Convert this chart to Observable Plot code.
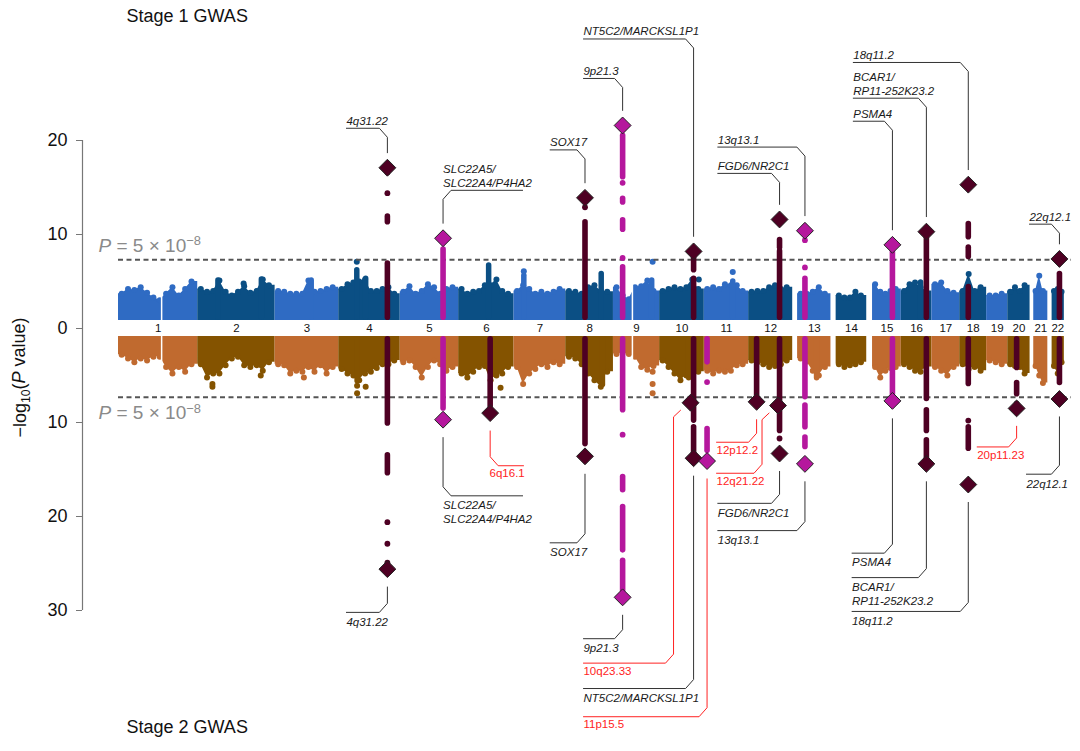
<!DOCTYPE html>
<html>
<head>
<meta charset="utf-8">
<script src="https://cdn.jsdelivr.net/npm/d3@7"></script>
<script src="https://cdn.jsdelivr.net/npm/@observablehq/plot@0.6"></script>
<style>
  html, body { margin: 0; padding: 0; background: #fff; }
  #chart { width: 1080px; height: 751px; }
</style>
</head>
<body>
<div id="chart"></div>
<script>
// ---------------- DATA ----------------
const chromosomes = ["1","2","3","4","5","6","7","8","9","10","11","12","13","14","15","16","17","18","19","20","21","22"];
const chromLengthsMb = [249,243,198,191,181,171,159,146,141,136,135,134,115,107,103,90,81,78,59,63,48,51];
const chromFirstMb   = [0,0,0,0,0,0,0,0,0,0,0,0,16,17,19,0,0,0,0,0,12,14];
const chromGapMb = 10;

// Stage 1 (top) envelope of the background SNP cloud, -log10 P, evenly spaced along each chromosome
const stage1Envelope = [
  [3.7,4.2,4.1,4.4,3.8,3.3,3.0,3.7,4.4,3.5,4.2,5.0],
  [4.2,3.9,4.0,5.1,3.9,3.5,3.9,4.5,3.8,4.0,5.2,4.6],
  [4.0,3.9,3.7,3.7,3.7,5.1,3.9,4.0,4.2,4.4],
  [4.2,4.7,4.9,5.0,5.2,4.0,4.0,4.2,4.4,3.7],
  [3.9,4.5,3.7,4.0,4.7,4.4,3.7,4.2,4.4],
  [4.2,3.7,3.9,4.0,4.6,4.6,5.2,4.0,3.7],
  [4.0,4.6,4.2,3.7,3.9,3.7,3.9,4.2],
  [4.0,3.9,3.7,4.4,4.6,4.0,3.9],
  [4.4,3.5,3.1,4.4,4.5,5.1,4.0],
  [4.0,4.2,4.4,4.2,4.4,5.2,4.2],
  [4.2,4.4,4.2,4.7,4.6,4.6,4.0],
  [3.9,4.0,4.0,4.4,4.6,4.2,4.4],
  [3.7,3.7,3.9,4.4,3.7],
  [3.5,3.3,3.3,3.9,3.5],
  [4.7,3.9,3.7,4.0,4.2],
  [4.0,4.7,4.9,4.4,4.0],
  [4.7,4.9,4.0,3.8],
  [4.0,5.8,4.0,4.4],
  [3.5,3.5,3.7],
  [3.9,4.4,4.0,4.6],
  [4.0,5.6,4.0],
  [4.0,4.2,3.9]
];
// Stage 2 (bottom) envelope, magnitudes of -log10 P
const stage2Envelope = [
  [2.8,3.2,3.6,3.2,3.4,3.0,3.0,4.1,4.8,4.1,4.6,3.8],
  [3.8,5.2,4.8,4.8,3.9,3.2,3.0,3.9,4.1,3.9,4.5,3.6],
  [3.8,3.9,4.8,4.5,4.6,4.1,4.6,3.9,4.8,4.1],
  [4.3,4.8,5.0,5.5,4.8,4.6,4.2,3.8,3.8,3.4],
  [3.6,3.4,4.1,5.2,4.1,3.4,3.8,4.5,4.1],
  [4.8,5.2,4.6,4.1,4.0,5.5,5.0,4.8,4.1],
  [4.1,5.9,4.8,4.3,3.8,4.1,3.6,3.8],
  [3.0,3.2,3.8,4.8,5.5,6.2,4.6],
  [2.7,2.6,2.7,3.0,4.1,4.4,4.0],
  [3.4,4.1,4.8,5.5,5.0,4.8,4.6],
  [4.5,4.8,4.5,4.6,4.5,3.9,3.8],
  [3.4,3.6,3.8,4.1,4.0,3.8,3.4],
  [3.2,3.5,4.5,5.0,4.1],
  [3.8,4.1,3.9,3.8,3.6],
  [4.1,5.2,4.5,4.2,4.1],
  [3.8,4.1,4.5,4.6,4.1],
  [4.1,4.5,5.0,4.1],
  [3.8,4.3,4.1,4.5],
  [3.4,3.6,3.8],
  [3.8,4.0,4.1,4.8],
  [4.0,5.0,5.8],
  [4.0,4.8,3.6]
];
// background peaks [chr, Mb, -log10 P]
const stage1Spikes = [[2,66,5.1],[2,208,5.2],[3,118,5.1],[4,59,6.2],[4,88,5.3],[6,98,6.7],[7,32,5.6],[8,116,5.8],[9,125,5.1],[11,93,5.0],[16,63,4.9]];
const stage1Singles = [[4,59,7.1],[7,32,6.1],[9,128,7.1],[10,128,5.2],[11,93,6.0],[2,150,4.8]];
const stage2Spikes = [[4,60,5.6],[8,120,6.0],[10,95,5.3],[13,78,5.3]];
const stage2Singles = [[2,48,5.9],[2,48,6.2],[2,206,5.0],[3,94,5.2],[4,60,6.1],[4,60,6.9],[4,88,6.2],[6,137,6.3],[9,128,4.6],[9,128,5.9],[9,128,6.9]];
const chromGaps = [[1,141],[9,62]];

// highlighted loci
const loci = [
  {id:"4q31.22",  chr:4,  pos:159, hue:"maroon"},
  {id:"SLC22A5",  chr:5,  pos:140, hue:"magenta"},
  {id:"6q16.1",   chr:6,  pos:103, hue:"maroon"},
  {id:"SOX17",    chr:8,  pos:63,  hue:"maroon"},
  {id:"9p21.3",   chr:9,  pos:30,  hue:"magenta"},
  {id:"10q23.33", chr:10, pos:101, hue:"maroon"},
  {id:"NT5C2",    chr:10, pos:111, hue:"maroon"},
  {id:"11p15.5",  chr:11, pos:9,   hue:"magenta"},
  {id:"12p12.2",  chr:12, pos:26,  hue:"maroon"},
  {id:"12q21.22", chr:12, pos:96,  hue:"maroon"},
  {id:"FGD6",     chr:12, pos:101, hue:"maroon"},
  {id:"13q13.1",  chr:13, pos:40,  hue:"magenta"},
  {id:"PSMA4",    chr:15, pos:84,  hue:"magenta"},
  {id:"BCAR1",    chr:16, pos:82,  hue:"maroon"},
  {id:"18q11.2",  chr:18, pos:28,  hue:"maroon"},
  {id:"20p11.23", chr:20, pos:29,  hue:"maroon"},
  {id:"22q12.1",  chr:22, pos:38,  hue:"maroon"}
];
// lead SNPs (diamonds), -log10 P
const stage1Lead = [["4q31.22",17.1],["SLC22A5",9.6],["SOX17",13.9],["9p21.3",21.6],["NT5C2",8.2],["FGD6",11.6],["13q13.1",10.4],["PSMA4",8.9],["BCAR1",10.3],["18q11.2",15.3],["22q12.1",7.4]];
const stage2Lead = [["4q31.22",25.6],["SLC22A5",9.7],["6q16.1",9.0],["SOX17",13.6],["9p21.3",28.6],["10q23.33",7.9],["NT5C2",13.8],["11p15.5",14.1],["12p12.2",7.8],["12q21.22",8.2],["FGD6",13.3],["13q13.1",14.4],["PSMA4",7.7],["BCAR1",14.4],["18q11.2",16.6],["20p11.23",8.5],["22q12.1",7.5]];
// columns of associated SNPs at each locus [id, from, to]  (0 = bottom of the cloud)
const stage1Columns = [
  ["4q31.22",0,6.9],["4q31.22",11.3,11.9],["SLC22A5",0,8.4],["SOX17",0,11.3],
  ["9p21.3",0,6.5],["9p21.3",10.5,11.5],["9p21.3",13.4,13.8],["9p21.3",16.1,20.5],
  ["NT5C2",0,5.3],["NT5C2",6.2,7.6],["FGD6",0,8.2],["FGD6",8.6,9.4],["13q13.1",0,5.3],
  ["PSMA4",0,8.1],["BCAR1",0,9.6],["18q11.2",0,4.4],["18q11.2",7.6,8.6],["18q11.2",9.7,11.1],["22q12.1",0,5.8]
];
const stage1ColumnDots = [["4q31.22",14.4],["4q31.22",16.6],["SOX17",12.9],["9p21.3",7.5],["9p21.3",15.5],["13q13.1",6.5],["13q13.1",9.4]];
const stage2Columns = [
  ["4q31.22",0,10.1],["4q31.22",13.5,15.4],["SLC22A5",0,8.5],["6q16.1",0,8.3],["SOX17",0,12.3],
  ["9p21.3",0,8.7],["9p21.3",15.8,17.2],["9p21.3",19.0,23.6],["9p21.3",24.7,27.9],
  ["NT5C2",0,9.8],["NT5C2",10.5,13.3],["11p15.5",0,3.6],["11p15.5",10.7,13.0],["12p12.2",0,7.3],
  ["FGD6",0,10.9],["13q13.1",0,7.3],["13q13.1",8.2,10.5],["13q13.1",11.6,12.6],["PSMA4",0,7.0],
  ["BCAR1",0,7.5],["BCAR1",8.7,10.9],["BCAR1",11.9,14.0],["18q11.2",0,5.9],["18q11.2",10.5,12.8],
  ["20p11.23",0,4.2],["20p11.23",5.8,7.0],["22q12.1",0,5.8]
];
const stage2ColumnDots = [["4q31.22",20.6],["4q31.22",22.9],["4q31.22",24.9],["9p21.3",11.3],["11p15.5",5.7],["FGD6",11.7],["18q11.2",9.8],["20p11.23",8.0]];

// annotation labels: [panel, locus, text, leader level, text start (genome Mb), side, line end (genome Mb), red, shift px]
const annotations = [
  ["top","4q31.22","4q31.22",21.3,745,"R",null,false,0],
  ["top","SLC22A5","SLC22A5/\nSLC22A4/P4HA2",14.7,1061,"L",1321,false,0],
  ["top","NT5C2","NT5C2/MARCKSL1P1",30.8,1520,"R",null,false,0],
  ["top","9p21.3","9p21.3",26.6,1520,"R",null,false,0],
  ["top","SOX17","SOX17",19.0,1411,"R",null,false,0],
  ["top","13q13.1","13q13.1",19.3,1959,"R",null,false,0],
  ["top","FGD6","FGD6/NR2C1",16.5,1959,"R",null,false,0],
  ["top","18q11.2","18q11.2",28.3,2402,"R",null,false,0],
  ["top","BCAR1","BCAR1/\nRP11-252K23.2",24.5,2402,"R",null,false,0],
  ["top","PSMA4","PSMA4",22.05,2402,"R",null,false,0],
  ["top","22q12.1","22q12.1",11.1,2978,"R",null,false,0],
  ["bottom","4q31.22","4q31.22",30.2,745,"R",null,false,0],
  ["bottom","SLC22A5","SLC22A5/\nSLC22A4/P4HA2",17.8,1061,"L",1321,false,0],
  ["bottom","6q16.1","6q16.1",14.6,1213,"L",1324,true,0],
  ["bottom","SOX17","SOX17",22.8,1411,"R",null,false,0],
  ["bottom","9p21.3","9p21.3",33.0,1520,"R",null,false,0],
  ["bottom","10q23.33","10q23.33",35.6,1520,"R",null,true,17],
  ["bottom","NT5C2","NT5C2/MARCKSL1P1",38.3,1520,"R",null,false,0],
  ["bottom","11p15.5","11p15.5",41.3,1520,"R",null,true,0],
  ["bottom","12p12.2","12p12.2",12.1,1955,"R",null,true,0],
  ["bottom","12q21.22","12q21.22",15.4,1955,"R",null,true,16],
  ["bottom","FGD6","FGD6/NR2C1",18.6,1959,"R",null,false,0],
  ["bottom","13q13.1","13q13.1",21.5,1959,"R",null,false,0],
  ["bottom","PSMA4","PSMA4",23.9,2398,"R",null,false,0],
  ["bottom","BCAR1","BCAR1/\nRP11-252K23.2",26.5,2398,"R",null,false,0],
  ["bottom","18q11.2","18q11.2",30.1,2398,"R",null,false,0],
  ["bottom","20p11.23","20p11.23",12.6,2807,"R",null,true,0],
  ["bottom","22q12.1","22q12.1",15.5,2968,"R",null,false,0]
];
const yTicks = [20,10,0,-10,-20,-30];
const significance = 5e-8;

// ---------------- LAYOUT / STYLE ----------------
const W = 1080, H = 751;
const pxPerMb = 0.3059, genomeLeftPx = 118, axisPx = 82;
const zeroPx = 328, pxPerUnit = 9.4;
const base = 0.85;
const colors = {
  top: ["#2f6bc3", "#0b4f84"],
  bottom: ["#c06a2f", "#845300"],
  maroon: "#4e0023",
  magenta: "#b5179d",
  red: "#ff2222",
  ink: "#1a1a1a"
};
const font = "'Liberation Sans', Arial, Helvetica, sans-serif";

// ---------------- DERIVED ----------------
const cumStart = [];
{ let acc = 0; chromLengthsMb.forEach(L => { cumStart.push(acc); acc += L + chromGapMb; }); }
const genomeEnd = cumStart[21] + chromLengthsMb[21];
const gx = (chr, pos) => cumStart[chr - 1] + pos;
const locusById = new Map(loci.map(d => [d.id, d]));
const locusX = id => { const l = locusById.get(id); return gx(l.chr, l.pos); };
const locusColor = id => colors[locusById.get(id).hue];
const thr = -Math.log10(significance);

function envelopeRows(env, sign, palette) {
  const area = [], dots = [];
  env.forEach((s, i) => {
    const chr = i + 1, a = chromFirstMb[i], L = chromLengthsMb[i], n = s.length;
    const step = (L - a) / n;
    const fill = palette[i % 2];
    const pts = s.map((h, j) => ({chr, x: gx(chr, a + (j + 0.5) * step), v: sign * h, fill}));
    dots.push(...pts);
    const right = i < 21 ? L + chromGapMb : L + 3;   // chromosomes sit edge to edge
    area.push({chr, x: gx(chr, a), v: sign * s[0], fill}, ...pts, {chr, x: gx(chr, right), v: sign * s[n - 1], fill});
  });
  return {area, dots};
}
const env1 = envelopeRows(stage1Envelope, 1, colors.top);
const env2 = envelopeRows(stage2Envelope, -1, colors.bottom);
const spikeRows = (arr, sign, palette) => arr.map(([c, p, v]) => ({x: gx(c, p), y1: sign * (base + 0.3), y2: sign * v, fill: palette[(c - 1) % 2]}));
const singleRows = (arr, sign, palette) => arr.map(([c, p, v]) => ({x: gx(c, p), v: sign * v, fill: palette[(c - 1) % 2]}));
const colRows = (arr, sign) => arr.map(([id, a, b]) => ({x: locusX(id), y1: sign * (a === 0 ? base + 0.3 : a), y2: sign * b, c: locusColor(id)}));
const colDotRows = (arr, sign) => arr.map(([id, v]) => ({x: locusX(id), v: sign * v, c: locusColor(id)}));
const leadRows = (arr, sign) => arr.map(([id, v]) => ({x: locusX(id), v: sign * v, c: locusColor(id)}));

const chromLabelRows = chromosomes.map((name, i) => ({name, x: cumStart[i] + (chromFirstMb[i] + chromLengthsMb[i] + (i < 21 ? chromGapMb : 0)) / 2}));
const gapRows = chromGaps.map(([c, p]) => ({x: gx(c, p)}));

// leader lines
const dxMb = 8 / pxPerMb, dyU = 9 / pxPerUnit;
const leaders = [], labelRows = [];
annotations.forEach(([panel, id, text, level, textAt, side, endAt, red, shift], idx) => {
  const sg = panel === "top" ? 1 : -1;
  const leadArr = panel === "top" ? stage1Lead : stage2Lead;
  const lead = sg * leadArr.find(d => d[0] === id)[1];
  const lv = sg * level;
  const lx = locusX(id) - shift / pxPerMb;
  const pts = side === "R"
    ? [[textAt, lv], [lx - dxMb, lv], [lx, lv - sg * dyU]]
    : [[endAt, lv], [lx + dxMb, lv], [lx, lv - sg * dyU]];
  if (shift) { pts.push([lx, lead + sg * 1.5]); pts.push([lx + 7 / pxPerMb, lead + sg * 0.8]); }
  else pts.push([lx, lead + sg * (panel === "top" ? 1.6 : 1.9)]);
  pts.forEach(([x, y]) => leaders.push({key: idx, x, y, red}));
  labelRows.push({panel, text, x: textAt, y: lv, red});
});

// ---------------- PLOT ----------------
const xDomain = [(axisPx - genomeLeftPx) / pxPerMb, (W - genomeLeftPx) / pxPerMb];
const yDomain = [(zeroPx - H) / pxPerUnit, zeroPx / pxPerUnit];

const plot = Plot.plot({
  width: W, height: H,
  marginLeft: axisPx, marginRight: 0, marginTop: 0, marginBottom: 0,
  style: {fontFamily: font, background: "#fff", overflow: "visible"},
  x: {domain: xDomain, range: [axisPx, W], axis: null},
  y: {domain: yDomain, range: [H, 0]},
  color: {type: "identity"},
  marks: [
    // background SNP clouds
    Plot.areaY(env1.area, {x: "x", y1: base, y2: "v", z: "chr", fill: "fill", curve: "linear"}),
    Plot.areaY(env2.area, {x: "x", y1: -base, y2: "v", z: "chr", fill: "fill", curve: "linear"}),
    Plot.dot(env1.dots, {x: "x", y: "v", r: 3, fill: "fill"}),
    Plot.dot(env2.dots, {x: "x", y: "v", r: 3, fill: "fill"}),
    Plot.ruleX(spikeRows(stage1Spikes, 1, colors.top), {x: "x", y1: "y1", y2: "y2", stroke: "fill", strokeWidth: 5.5, strokeLinecap: "round"}),
    Plot.ruleX(spikeRows(stage2Spikes, -1, colors.bottom), {x: "x", y1: "y1", y2: "y2", stroke: "fill", strokeWidth: 5.5, strokeLinecap: "round"}),
    Plot.dot(singleRows(stage1Singles, 1, colors.top), {x: "x", y: "v", r: 3, fill: "fill"}),
    Plot.dot(singleRows(stage2Singles, -1, colors.bottom), {x: "x", y: "v", r: 3, fill: "fill"}),
    Plot.ruleX(gapRows, {x: "x", y1: -6.5, y2: 6.5, stroke: "#fff", strokeWidth: 1.5}),
    // genome-wide significance
    Plot.ruleY([thr, -thr], {x1: 0, x2: genomeEnd + 25, stroke: "#555", strokeWidth: 2, strokeDasharray: "5,3.5"}),
    // loci
    Plot.ruleX(colRows(stage1Columns, 1), {x: "x", y1: "y1", y2: "y2", stroke: "c", strokeWidth: 5.6, strokeLinecap: "round"}),
    Plot.ruleX(colRows(stage2Columns, -1), {x: "x", y1: "y1", y2: "y2", stroke: "c", strokeWidth: 5.6, strokeLinecap: "round"}),
    Plot.dot(colDotRows(stage1ColumnDots, 1), {x: "x", y: "v", r: 2.9, fill: "c"}),
    Plot.dot(colDotRows(stage2ColumnDots, -1), {x: "x", y: "v", r: 2.9, fill: "c"}),
    Plot.dot(leadRows(stage1Lead, 1), {x: "x", y: "v", symbol: "diamond2", r: 7.6, fill: "c", stroke: "#222", strokeWidth: 1}),
    Plot.dot(leadRows(stage2Lead, -1), {x: "x", y: "v", symbol: "diamond2", r: 7.6, fill: "c", stroke: "#222", strokeWidth: 1}),
    // chromosome labels
    Plot.text(chromLabelRows, {x: "x", y: 0, text: "name", fontSize: 11.5, fill: "#111", lineAnchor: "middle"}),
    // leader lines
    Plot.line(leaders.filter(d => !d.red), {x: "x", y: "y", z: "key", stroke: "#333", strokeWidth: 1, curve: "linear"}),
    Plot.line(leaders.filter(d => d.red), {x: "x", y: "y", z: "key", stroke: colors.red, strokeWidth: 1, curve: "linear"}),
    Plot.text(labelRows.filter(d => d.panel === "top" && !d.red), {x: "x", y: "y", text: "text", textAnchor: "start", lineAnchor: "bottom", dy: -3.5, fontSize: 11.5, fontStyle: "italic", fill: colors.ink, lineHeight: 1.2}),
    Plot.text(labelRows.filter(d => d.panel === "bottom" && !d.red), {x: "x", y: "y", text: "text", textAnchor: "start", lineAnchor: "top", dy: 3.5, fontSize: 11.5, fontStyle: "italic", fill: colors.ink, lineHeight: 1.2}),
    Plot.text(labelRows.filter(d => d.panel === "bottom" && d.red), {x: "x", y: "y", text: "text", textAnchor: "start", lineAnchor: "top", dy: 3.5, fontSize: 11.5, fill: colors.red}),
    // threshold labels
    Plot.text([thr], {y: d => d, frameAnchor: "left", dx: 16, dy: -14, text: () => "P = 5 × 10−8", textAnchor: "start", lineAnchor: "middle", fontSize: 19, fill: "#8a8a8a"}),
    Plot.text([-thr], {y: d => d, frameAnchor: "left", dx: 16, dy: 16, text: () => "P = 5 × 10−8", textAnchor: "start", lineAnchor: "middle", fontSize: 19, fill: "#8a8a8a"}),
    // y axis
    Plot.ruleX([xDomain[0]], {y1: -30, y2: 20, stroke: "#777", strokeWidth: 1.2}),
    Plot.axisY({ticks: yTicks, tickFormat: d => String(Math.abs(d)), tickSize: 6, tickPadding: 9, fontSize: 18, stroke: "#777", fill: "#111", label: null}),
    Plot.text(["−log10(P value)"], {frameAnchor: "top-left", dx: 20 - axisPx, dy: 377, rotate: -90, text: d => d, textAnchor: "middle", lineAnchor: "middle", fontSize: 18, fill: "#111"}),
    // panel titles
    Plot.text(["Stage 1 GWAS"], {frameAnchor: "top-left", dx: 126 - axisPx, dy: 16, text: d => d, textAnchor: "start", lineAnchor: "middle", fontSize: 18, fill: "#111"}),
    Plot.text(["Stage 2 GWAS"], {frameAnchor: "bottom-left", dx: 126 - axisPx, dy: -24, text: d => d, textAnchor: "start", lineAnchor: "middle", fontSize: 18, fill: "#111"})
  ]
});

// rich text (italic P, sub/superscripts)
d3.select(plot).selectAll("text").each(function () {
  const t = d3.select(this);
  const s = this.textContent;
  if (s === "P = 5 × 10−8") {
    t.text(null);
    t.append("tspan").attr("font-style", "italic").text("P");
    t.append("tspan").text(" = 5 × 10");
    t.append("tspan").attr("dy", "-0.5em").attr("font-size", "0.68em").text("−8");
  } else if (s === "−log10(P value)") {
    t.text(null);
    t.append("tspan").text("−log");
    t.append("tspan").attr("dy", "0.3em").attr("font-size", "0.68em").text("10");
    t.append("tspan").attr("dy", "-0.3em").text("(");
    t.append("tspan").attr("font-style", "italic").text("P");
    t.append("tspan").text(" value)");
  }
});

document.getElementById("chart").appendChild(plot);
</script>
</body>
</html>
